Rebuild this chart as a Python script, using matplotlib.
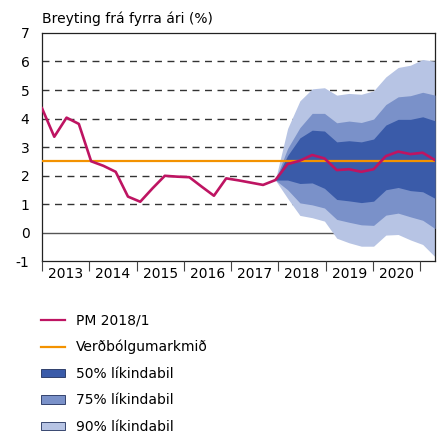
import numpy as np
import matplotlib
matplotlib.use("Agg")
import matplotlib.pyplot as plt
from matplotlib.lines import Line2D
from matplotlib.patches import Patch

plt.rcParams['font.family'] = ['DejaVu Sans']
plt.rcParams['axes.unicode_minus'] = False

# quarterly data 2013Q1 - 2021Q1 (index 0..32)
pm_2018_1 = [4.36, 3.36, 4.03, 3.81, 2.50, 2.34, 2.13, 1.26, 1.08, 1.55, 1.99,
             1.96, 1.94, 1.61, 1.29, 1.90, 1.83, 1.75, 1.67, 1.84, 2.40, 2.52,
             2.72, 2.60, 2.19, 2.22, 2.13, 2.22, 2.68, 2.84, 2.75, 2.80, 2.54]
target = 2.5

# fan from 2017Q4 (index 19) to 2021Q1 (index 32)
fan_start = 19
upper90 = [1.84, 3.65, 4.62, 5.04, 5.08, 4.82, 4.88, 4.85, 4.97, 5.46, 5.79, 5.87, 6.07, 6.01]
upper75 = [1.84, 2.95, 3.68, 4.18, 4.18, 3.85, 3.91, 3.86, 3.98, 4.49, 4.76, 4.80, 4.92, 4.82]
upper50 = [1.84, 2.70, 3.32, 3.59, 3.56, 3.18, 3.22, 3.18, 3.28, 3.77, 3.97, 3.97, 4.06, 3.92]
lower50 = [1.84, 1.84, 1.72, 1.74, 1.55, 1.16, 1.11, 1.05, 1.10, 1.50, 1.58, 1.47, 1.43, 1.20]
lower75 = [1.84, 1.50, 1.04, 0.97, 0.86, 0.46, 0.36, 0.27, 0.25, 0.61, 0.68, 0.55, 0.43, 0.14]
lower90 = [1.84, 1.20, 0.60, 0.52, 0.40, -0.20, -0.36, -0.48, -0.48, -0.09, -0.07, -0.26, -0.42, -0.85]

years = list(range(2013, 2021))
year_labels = [str(y) for y in years]

c_line = '#BE1462'
c_target = '#F39200'
c50 = '#3A5BA9'
c75 = '#7A91C9'
c90 = '#B7C4E4'

fig = plt.figure(figsize=(4.37, 4.37), dpi=100)
ax = fig.add_axes([0.0961, 0.4027, 0.8993, 0.5218])

x = np.arange(len(pm_2018_1))
xf = np.arange(fan_start, fan_start + len(upper90))

for yv in range(1, 7):
    ax.axhline(yv, color='#333333', lw=1.0, ls=(0, (5, 4)), zorder=1)
ax.axhline(0, color='#555555', lw=1.0, zorder=1)

ax.fill_between(xf, lower90, upper90, color=c90, lw=0, zorder=2)
ax.fill_between(xf, lower75, upper75, color=c75, lw=0, zorder=3)
ax.fill_between(xf, lower50, upper50, color=c50, lw=0, zorder=4)
ax.axhline(target, color=c_target, lw=1.6, zorder=5)
ax.plot(x, pm_2018_1, color=c_line, lw=1.9, zorder=6)

ax.set_xlim(0, len(pm_2018_1) - 1)
ax.set_ylim(-1, 7)
ax.set_yticks(range(-1, 8))
ax.tick_params(axis='y', length=0, pad=9, labelsize=10)
ax.set_xticks([])
for s in ax.spines.values():
    s.set_color('#222222')
    s.set_linewidth(0.9)

# year axis for ticks and labels
axy = ax.twiny()
axy.set_xlim(2013, 2021.31)
axy.xaxis.set_ticks_position('bottom')
axy.xaxis.set_label_position('bottom')
axy.set_xticks(range(2013, 2022))
axy.set_xticklabels([])
axy.set_xticks([y + 0.5 for y in years], minor=True)
axy.set_xticklabels(year_labels, minor=True)
axy.tick_params(axis='x', which='major', direction='out', length=7, width=0.8, color='#444444')
axy.tick_params(axis='x', which='minor', length=0, pad=4, labelsize=10)
axy.tick_params(axis='x', which='minor', top=False)
for s in axy.spines.values():
    s.set_visible(False)

fig.text(0.0961, 0.958, 'Breyting frá fyrra ári (%)', fontsize=10, va='center', ha='left')

handles = [
    Line2D([], [], color=c_line, lw=1.6),
    Line2D([], [], color=c_target, lw=1.6),
    Patch(facecolor=c50, edgecolor='#1F2F5C', lw=0.6),
    Patch(facecolor=c75, edgecolor='#1F2F5C', lw=0.6),
    Patch(facecolor=c90, edgecolor='#1F2F5C', lw=0.6),
]
labels = ['PM 2018/1', 'Verðbólgumarkmið', '50% líkindabil', '75% líkindabil', '90% líkindabil']
fig.legend(handles, labels, loc='upper left', bbox_to_anchor=(0.094, 0.283),
           frameon=False, fontsize=10, handlelength=1.7, handleheight=0.6,
           handletextpad=0.8, labelspacing=0.9, borderpad=0, borderaxespad=0)

fig.savefig('out.png', dpi=100)
